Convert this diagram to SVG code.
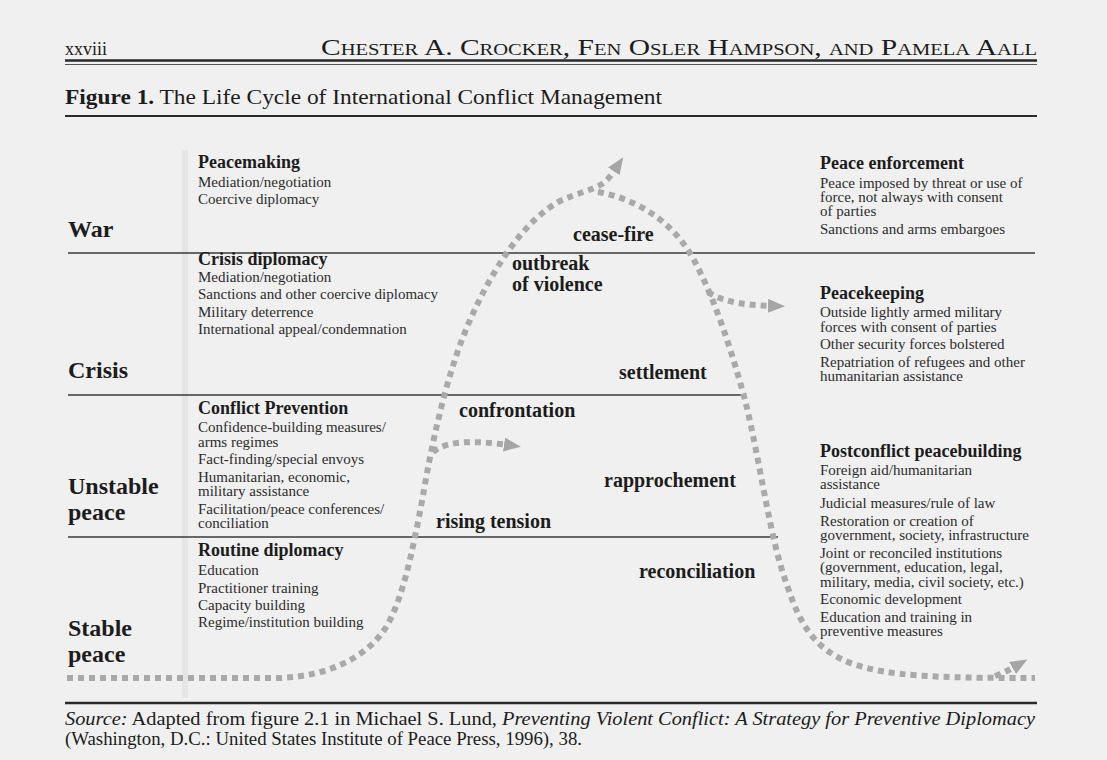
<svg xmlns="http://www.w3.org/2000/svg" width="1107" height="760" viewBox="0 0 1107 760">
<defs>
<style>
text{font-family:"Liberation Serif","Times New Roman",serif;fill:#1c1c1c}
.stage{font-size:24px;font-weight:bold}
.hd{font-size:18px;font-weight:bold}
.it{font-size:15px;fill:#2c2c2c}
.mid{font-size:20px;font-weight:bold}
.rule{stroke:#3a3a3a;stroke-width:1.5;fill:none}
.curve{stroke:#a9a9a9;stroke-width:6;stroke-dasharray:6 5;fill:none}
</style>
<marker id="ah" markerUnits="userSpaceOnUse" markerWidth="18" markerHeight="16" refX="4" refY="7" orient="auto">
<path d="M0,0 L17,7 L0,14 z" fill="#a5a5a5"/>
</marker>
</defs>
<rect x="0" y="0" width="1107" height="760" fill="#f0f0f0"/>
<rect x="182" y="150" width="6" height="548" fill="#e5e5e5"/>

<g id="header">
<text x="65" y="55" font-size="18">xxviii</text>
<text x="321" y="55" font-size="23" style="font-variant:small-caps" textLength="716" lengthAdjust="spacingAndGlyphs">Chester A. Crocker, Fen Osler Hampson, and Pamela Aall</text>
<line x1="65" y1="60.5" x2="1037" y2="60.5" stroke="#2a2a2a" stroke-width="2.5"/>
<line x1="65" y1="64.5" x2="1037" y2="64.5" stroke="#555" stroke-width="1"/>
<text x="65" y="104" font-size="21" textLength="597" lengthAdjust="spacingAndGlyphs"><tspan font-weight="bold">Figure 1.</tspan> The Life Cycle of International Conflict Management</text>
<line x1="65" y1="116" x2="1037" y2="116" stroke="#2a2a2a" stroke-width="2"/>
</g>

<g id="rules">
<line class="rule" x1="68" y1="253" x2="1035" y2="253"/>
<line class="rule" x1="68" y1="395" x2="745" y2="395"/>
<line class="rule" x1="68" y1="537" x2="778" y2="537"/>
<line x1="65" y1="703" x2="1037" y2="703" stroke="#2a2a2a" stroke-width="2.5"/>
</g>

<g id="stage-war"><text class="stage" x="68" y="237">War</text></g>
<g id="stage-crisis"><text class="stage" x="68" y="378">Crisis</text></g>
<g id="stage-unstable"><text class="stage" x="68" y="494">Unstable</text><text class="stage" x="68" y="520">peace</text></g>
<g id="stage-stable"><text class="stage" x="68" y="636">Stable</text><text class="stage" x="68" y="662">peace</text></g>

<g id="peacemaking">
<text class="hd" x="198" y="168">Peacemaking</text>
<text class="it" x="198" y="187">Mediation/negotiation</text>
<text class="it" x="198" y="204">Coercive diplomacy</text>
</g>
<g id="crisis-diplomacy">
<text class="hd" x="198" y="265">Crisis diplomacy</text>
<text class="it" x="198" y="282">Mediation/negotiation</text>
<text class="it" x="198" y="299">Sanctions and other coercive diplomacy</text>
<text class="it" x="198" y="317">Military deterrence</text>
<text class="it" x="198" y="334">International appeal/condemnation</text>
</g>
<g id="conflict-prevention">
<text class="hd" x="198" y="414">Conflict Prevention</text>
<text class="it" x="198" y="432">Confidence-building measures/</text>
<text class="it" x="198" y="447">arms regimes</text>
<text class="it" x="198" y="464">Fact-finding/special envoys</text>
<text class="it" x="198" y="482">Humanitarian, economic,</text>
<text class="it" x="198" y="496">military assistance</text>
<text class="it" x="198" y="514">Facilitation/peace conferences/</text>
<text class="it" x="198" y="528">conciliation</text>
</g>
<g id="routine-diplomacy">
<text class="hd" x="198" y="556">Routine diplomacy</text>
<text class="it" x="198" y="575">Education</text>
<text class="it" x="198" y="593">Practitioner training</text>
<text class="it" x="198" y="610">Capacity building</text>
<text class="it" x="198" y="627">Regime/institution building</text>
</g>

<g id="peace-enforcement">
<text class="hd" x="820" y="169">Peace enforcement</text>
<text class="it" x="820" y="188">Peace imposed by threat or use of</text>
<text class="it" x="820" y="202">force, not always with consent</text>
<text class="it" x="820" y="216">of parties</text>
<text class="it" x="820" y="234">Sanctions and arms embargoes</text>
</g>
<g id="peacekeeping">
<text class="hd" x="820" y="299">Peacekeeping</text>
<text class="it" x="820" y="317">Outside lightly armed military</text>
<text class="it" x="820" y="332">forces with consent of parties</text>
<text class="it" x="820" y="349">Other security forces bolstered</text>
<text class="it" x="820" y="367">Repatriation of refugees and other</text>
<text class="it" x="820" y="381">humanitarian assistance</text>
</g>
<g id="postconflict-peacebuilding">
<text class="hd" x="820" y="457">Postconflict peacebuilding</text>
<text class="it" x="820" y="475">Foreign aid/humanitarian</text>
<text class="it" x="820" y="489">assistance</text>
<text class="it" x="820" y="508">Judicial measures/rule of law</text>
<text class="it" x="820" y="526">Restoration or creation of</text>
<text class="it" x="820" y="540">government, society, infrastructure</text>
<text class="it" x="820" y="558">Joint or reconciled institutions</text>
<text class="it" x="820" y="572">(government, education, legal,</text>
<text class="it" x="820" y="587">military, media, civil society, etc.)</text>
<text class="it" x="820" y="604">Economic development</text>
<text class="it" x="820" y="622">Education and training in</text>
<text class="it" x="820" y="636">preventive measures</text>
</g>

<g id="phase-labels">
<text class="mid" x="573" y="241">cease-fire</text>
<text class="mid" x="512" y="270">outbreak</text>
<text class="mid" x="512" y="291">of violence</text>
<text class="mid" x="619" y="379">settlement</text>
<text class="mid" x="459" y="417">confrontation</text>
<text class="mid" x="604" y="487">rapprochement</text>
<text class="mid" x="436" y="528">rising tension</text>
<text class="mid" x="639" y="578">reconciliation</text>
</g>

<g id="connectors">
<path class="curve" marker-end="url(#ah)" d="M67,678 L280,678 C330,676 372,656 390,620 C406,588 416,535 427,473 C436,425 450,365 470,320 C494,266 525,220 560,201 C578,193 592,190 602,184 C608,180 612,174 616,168"/>
<path class="curve" d="M598,192 C632,198 672,218 695,262 C716,302 732,352 745,400 C760,460 770,540 787,585 C800,625 815,650 853,664 C890,676 930,678 1035,678"/>
<path class="curve" marker-end="url(#ah)" d="M708,292 C718,299 736,305 772,306"/>
<path class="curve" marker-end="url(#ah)" d="M433,452 C446,441 472,440 508,445"/>
<path class="curve" marker-end="url(#ah)" d="M995,676 C1003,673 1009,670 1016,666"/>
</g>

<g id="source">
<text x="65" y="725" font-size="18" textLength="970" lengthAdjust="spacingAndGlyphs"><tspan font-style="italic">Source:</tspan> Adapted from figure 2.1 in Michael S. Lund, <tspan font-style="italic">Preventing Violent Conflict: A Strategy for Preventive Diplomacy</tspan></text>
<text x="65" y="745" font-size="18" textLength="517" lengthAdjust="spacingAndGlyphs">(Washington, D.C.: United States Institute of Peace Press, 1996), 38.</text>
</g>
</svg>
